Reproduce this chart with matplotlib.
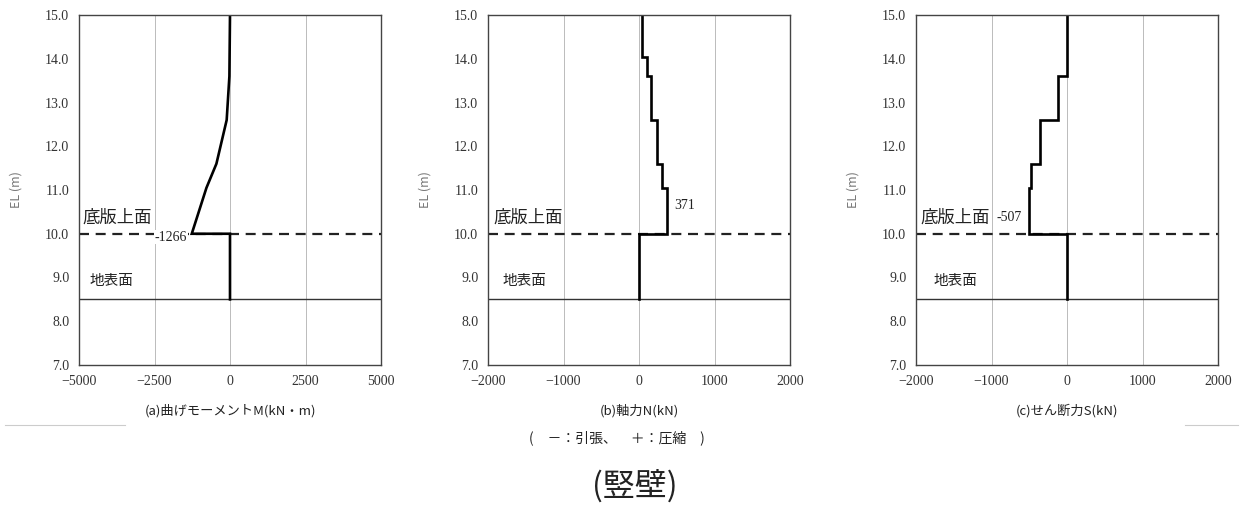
import numpy as np
import matplotlib.pyplot as plt
from matplotlib.lines import Line2D

# ----------------------------------
# DATA
# ----------------------------------

# (a) bending moment M (kN*m)
m_el = [15.0, 13.6, 12.6, 11.6, 11.05, 10.0, 10.0, 8.5]
m_val = [0, -20, -110, -450, -780, -1266, 0, 0]

# (b) axial force N (kN)
n_el = [15.0, 14.05, 14.05, 13.6, 13.6, 12.6, 12.6, 11.6, 11.6, 11.05, 11.05,
        10.0, 10.0, 8.5]
n_val = [42, 42, 104, 104, 157, 157, 236, 236, 302, 302, 371, 371, 0, 0]

# (c) shear force S (kN)
s_el = [15.0, 13.6, 13.6, 12.6, 12.6, 11.6, 11.6, 11.05, 11.05, 10.0, 10.0, 8.5]
s_val = [0, 0, -121, -121, -355, -355, -479, -479, -507, -507, 0, 0]

a_ticks = [-5000, -2500, 0, 2500, 5000]
bc_ticks = [-2000, -1000, 0, 1000, 2000]
y_ticks = [7.0, 8.0, 9.0, 10.0, 11.0, 12.0, 13.0, 14.0, 15.0]

slab_top = 10.0
ground = 8.5

titles = ["(a)曲げモーメントM(kN・m)", "(b)軸力N(kN)", "(c)せん断力S(kN)"]

# ----------------------------------
# PLOT
# ----------------------------------

jp = ["Noto Sans CJK JP", "DejaVu Sans"]
serif = ["Liberation Serif", "DejaVu Serif"]

fig = plt.figure(figsize=(12.51, 5.08), dpi=100)

panels = [
    dict(left=79, x=m_val, y=m_el, ticks=a_ticks, lim=(-5000, 5000),
         label="-1266", lx=-1430, ly=9.92, ha="right",
         jx1=-4880, jx2=-4640),
    dict(left=488, x=n_val, y=n_el, ticks=bc_ticks, lim=(-2000, 2000),
         label="371", lx=470, ly=10.64, ha="left",
         jx1=-1925, jx2=-1810),
    dict(left=916, x=s_val, y=s_el, ticks=bc_ticks, lim=(-2000, 2000),
         label="-507", lx=-930, ly=10.38, ha="left",
         jx1=-1940, jx2=-1770),
]

W, H = 1251, 508

for p, title in zip(panels, titles):
    ax = fig.add_axes([p["left"] / W, 1 - 365 / H, 302 / W, 350 / H])

    ax.set_xlim(*p["lim"])
    ax.set_ylim(7.0, 15.0)
    ax.set_xticks(p["ticks"])
    ax.set_yticks(y_ticks)
    ax.set_xticklabels([str(t).replace("-", "−") for t in p["ticks"]],
                       family=serif, fontsize=10)
    ax.set_yticklabels([f"{t:.1f}" for t in y_ticks],
                       family=serif, fontsize=10)
    ax.tick_params(length=0, pad=7, colors="#333333")

    ax.grid(True, axis="x", color="#bbbbbb", linewidth=0.7)
    ax.set_axisbelow(True)
    for s in ax.spines.values():
        s.set_color("#444444")
        s.set_linewidth(1.0)

    ax.axhline(slab_top, color="#222222", linewidth=1.6,
               linestyle=(0, (4.5, 3)))
    ax.axhline(ground, color="#333333", linewidth=1.0)

    ax.plot(p["x"], p["y"], color="black", linewidth=1.9,
            solid_joinstyle="miter")

    ax.text(p["lx"], p["ly"], p["label"], family=serif, fontsize=10,
            ha=p["ha"], va="center", color="#222222", zorder=5,
            bbox=dict(facecolor="white", edgecolor="none", pad=0.5))
    ax.text(p["jx1"], 10.36, "底版上面", family=jp, fontsize=12.5,
            ha="left", va="center", color="#222222")
    ax.text(p["jx2"], 8.93, "地表面", family=jp, fontsize=10.5,
            ha="left", va="center", color="#222222")

    ax.set_ylabel("EL (m)", family=jp, fontsize=9, color="#777777",
                  labelpad=16)

    cx = (p["left"] + 151) / W
    fig.text(cx, 1 - 411 / H, title, family=jp, fontsize=9.5,
             ha="center", va="center", color="#222222")

fig.text(617 / W, 1 - 438 / H, "(　－：引張、　＋：圧縮　)", family=jp,
         fontsize=10, ha="center", va="center", color="#222222")
fig.text(635 / W, 1 - 486 / H, "(竪壁)", family=jp, fontsize=23,
         ha="center", va="center", color="#222222")

# thin stray table rules at the bottom corners
fig.add_artist(Line2D([5 / W, 125 / W], [1 - 425 / H, 1 - 425 / H],
                      color="#cccccc", linewidth=0.8))
fig.add_artist(Line2D([1185 / W, 1238 / W], [1 - 425 / H, 1 - 425 / H],
                      color="#cccccc", linewidth=0.8))

plt.savefig("out.png", dpi=100)
